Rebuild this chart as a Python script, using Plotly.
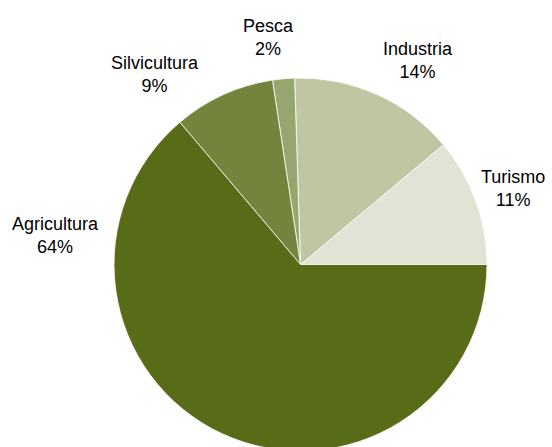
import plotly.graph_objects as go

# Data
categories = ["Turismo", "Industria", "Pesca", "Silvicultura", "Agricultura"]
values = [11.1, 14.4, 1.9, 8.8, 63.8]
pct_labels = ["11%", "14%", "2%", "9%", "64%"]
colors = ["#e1e3d5", "#bec6a2", "#97a66f", "#74843c", "#586b16"]

# Layout (pixels)
W, H = 552, 451
ML, MT, MR, MB = 114, 78, 65, 0
PW, PH = W - ML - MR, H - MT - MB

# label block centres (pixels, from top-left)
label_pos = {
    "Turismo": (513, 188),
    "Industria": (418, 61),
    "Pesca": (268, 37.5),
    "Silvicultura": (155, 74),
    "Agricultura": (55, 235),
}

# plotly's counterclockwise mode places the first slice clockwise of the
# rotation point, so shift by the first slice's angle to start it at 3 o'clock
rotation = 90 - 360 * values[0] / sum(values)

fig = go.Figure(go.Pie(
    labels=categories,
    values=values,
    sort=False,
    direction="counterclockwise",
    rotation=rotation,
    marker=dict(colors=colors, line=dict(color="#ffffff", width=0.8)),
    textinfo="none",
    hoverinfo="label+percent",
    showlegend=False,
))

annotations = []
for cat, pct in zip(categories, pct_labels):
    px, py = label_pos[cat]
    annotations.append(dict(
        x=(px - ML) / PW,
        y=1 - (py - MT) / PH,
        xref="paper", yref="paper",
        text=f"{cat}<br>{pct}",
        showarrow=False,
        xanchor="center", yanchor="middle",
        font=dict(family="Liberation Sans, Arial, sans-serif", size=18, color="#000000"),
    ))

fig.update_layout(
    width=W, height=H,
    margin=dict(l=ML, r=MR, t=MT, b=MB, pad=0),
    paper_bgcolor="#ffffff",
    plot_bgcolor="#ffffff",
    annotations=annotations,
)

fig.write_html(
    "out.html",
    config={"displayModeBar": False},
    post_script="document.body.style.margin='0';document.body.style.overflow='hidden';document.documentElement.style.overflow='hidden';",
)
